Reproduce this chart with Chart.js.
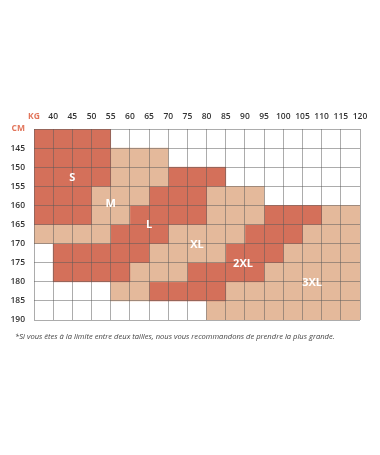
<!DOCTYPE html>
<html><head><meta charset="utf-8">
<script src="https://cdn.jsdelivr.net/npm/chart.js@4.4.1/dist/chart.umd.min.js"></script>
<style>
html,body{margin:0;padding:0;background:#fff;}
#wrap{position:relative;width:380px;height:455px;}
#note{position:absolute;left:15px;top:331px;font:italic 7.6px "Open Sans",sans-serif;color:#444;white-space:nowrap;}
</style></head><body>
<div id="wrap"><canvas id="c" width="380" height="455"></canvas>
<div id="note">*Si vous êtes à la limite entre deux tailles, nous vous recommandons de prendre la plus grande.</div></div>
<script>
// axis values and their printed labels
const kgEdges = [35,40,45,50,55,60,65,70,75,80,85,90,95,100,105,110,115,120];
const kgTicks = ['KG','40','45','50','55','60','65','70','75','80','85','90','95','100','105','110','115','120'];
const cmEdges = [140,145,150,155,160,165,170,175,180,185,190];
const cmTicks = ['CM','145','150','155','160','165','170','175','180','185','190'];

// sizes
const sizeNames  = ['S','M','L','XL','2XL','3XL'];
const sizeCodes  = ['S','M','L','X','2','3'];
const sizeColors = ['#d4705a','#e4b99b','#d4705a','#e4b99b','#d4705a','#e4b99b'];
// label placement (kg, cm)
const sizeLabelKg = [45, 55, 65, 77.5, 89.5, 107.5];
const sizeLabelCm = [152.7, 159.6, 165, 170.2, 175.2, 180.2];

// one string per cm row (top to bottom), one character per kg column
const sizeGrid = [
  "SSSS.............",
  "SSSSMMM..........",
  "SSSSMMMLLL.......",
  "SSSMMMLLLXXX.....",
  "SSSMMLLLLXXX22233",
  "MMMMLLLXXXX222333",
  ".LLLLLXXXX2223333",
  ".LLLLXXX222233333",
  "....XX22223333333",
  ".........33333333"
];

const datasets = sizeCodes.map((code, s) => {
  const data = [];
  sizeGrid.forEach((row, r) => {
    for (let c = 0; c < row.length; c++) {
      if (row[c] === code) {
        data.push({x: [kgEdges[c], kgEdges[c+1]], y: (cmEdges[r] + cmEdges[r+1]) / 2});
      }
    }
  });
  return {
    label: sizeNames[s], data, backgroundColor: sizeColors[s],
    borderWidth: 0, grouped: false, barPercentage: 1, categoryPercentage: 1
  };
});

const labelPlugin = {
  id: 'sizeLabels',
  afterDraw(chart) {
    const {ctx, scales: {x, y}} = chart;
    ctx.save();
    ctx.font = 'bold 11px "Open Sans", sans-serif';
    ctx.fillStyle = '#ffffff';
    ctx.textAlign = 'center';
    ctx.textBaseline = 'middle';
    sizeNames.forEach((n, i) => {
      ctx.fillText(n, x.getPixelForValue(sizeLabelKg[i]), y.getPixelForValue(sizeLabelCm[i]));
    });
    ctx.restore();
  }
};

const gridColor = 'rgba(90,90,90,0.5)';
const orange = '#e2765c';
const isFirst = (ctx) => ctx.tick && (ctx.tick.value === kgEdges[0] || ctx.tick.value === cmEdges[0]);

new Chart(document.getElementById('c'), {
  type: 'bar',
  data: {datasets},
  options: {
    indexAxis: 'y',
    responsive: false,
    animation: false,
    layout: {padding: {top: 100, right: 20, bottom: 135, left: 0}},
    plugins: {legend: {display: false}, tooltip: {enabled: false}},
    scales: {
      x: {
        type: 'linear', position: 'top', min: 35, max: 120, offset: false,
        afterFit(s) { s.height = 29; },
        ticks: {
          stepSize: 5, autoSkip: false, maxRotation: 0, padding: 7,
          callback: (v) => { const i = kgEdges.indexOf(v); return i >= 0 ? kgTicks[i] : ''; },
          color: (ctx) => isFirst(ctx) ? orange : '#333',
          font: (ctx) => ({family: '"Open Sans", sans-serif', size: 8.5, weight: isFirst(ctx) ? 'bold' : '600'})
        },
        grid: {z: 1, color: gridColor, lineWidth: 1, drawTicks: false, offset: false},
        border: {display: false}
      },
      y: {
        type: 'linear', reverse: true, min: 140, max: 190, offset: false,
        afterFit(s) { s.width = 34; },
        ticks: {
          stepSize: 5, autoSkip: false, padding: 9,
          callback: (v) => { const i = cmEdges.indexOf(v); return i >= 0 ? cmTicks[i] : ''; },
          color: (ctx) => isFirst(ctx) ? orange : '#333',
          font: (ctx) => ({family: '"Open Sans", sans-serif', size: 8.5, weight: isFirst(ctx) ? 'bold' : '600'})
        },
        grid: {z: 1, color: gridColor, lineWidth: 1, drawTicks: false, offset: false},
        border: {display: false}
      }
    }
  },
  plugins: [labelPlugin]
});
</script>
</body></html>
